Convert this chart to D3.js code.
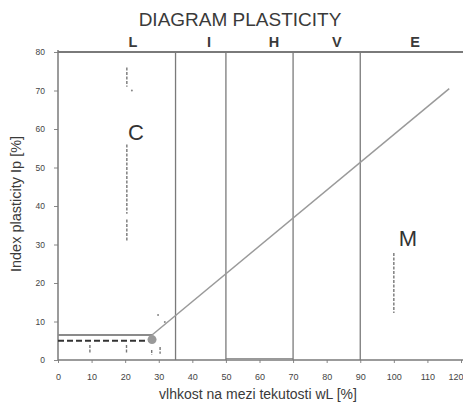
<!DOCTYPE html>
<html><head><meta charset="utf-8">
<script src="https://cdn.jsdelivr.net/npm/d3@7"></script>
<style>
html,body{margin:0;padding:0;background:#fff;}
svg{display:block;font-family:"Liberation Sans",Arial,sans-serif;}
</style></head>
<body>
<svg id="chart" width="463" height="405"></svg>
<script>
// ---- data ----
const xTicks = [0,10,20,30,40,50,60,70,80,90,100,110,120];
const yTicks = [0,10,20,30,40,50,60,70,80];
const zoneBounds = [35,50,70,90];                 // liquid-limit boundaries
const zoneLetters = ["L","I","H","V","E"];
const zoneLetterX = [22.3,45,64.3,83,106.3];
const aLine = [[28,6.5],[116.5,70.5]];           // A-line (wL, Ip)
const clayLimitLine = [[0,6.5],[28,6.5]];        // solid horizontal
const dashLine = [[0,5],[27,5]];                 // dashed horizontal
const pointMark = [28,5.3];
const regionLabels = ["C","M"];
const regionLabelPos = [[23.2,57.1],[104.2,29.6]];
// faint measured ranges: [wL, IpFrom, IpTo]
const faintRanges = [[20.5,76,71],[20.5,56,38],[20.5,36.5,31],[100,27.8,12.2],
                     [9.5,3.9,1.8],[20.4,3.9,1.8],[27.9,2.6,1.3],[30.4,3.4,1.6]];
const faintDots = [[22,70],[29.8,11.7],[31.8,9.9]];
const title = "DIAGRAM PLASTICITY";
const xTitle = "vlhkost na mezi tekutosti wL [%]";
const yTitle = "Index plasticity Ip [%]";

// ---- scales ----
const svg = d3.select("#chart");
const x = d3.scaleLinear().domain([0,120]).range([58,461]);
const y = d3.scaleLinear().domain([0,80]).range([360,52]);
const lineGray = "#7a7a7a";
const textCol = "#3a3a3a";

// title
svg.append("text").attr("x",240).attr("y",26).attr("text-anchor","middle")
  .attr("font-size",19).attr("fill",textCol).text(title);

// zone letters
svg.selectAll("text.zone").data(zoneLetters).join("text").attr("class","zone")
  .attr("x",(d,i)=>x(zoneLetterX[i])).attr("y",47).attr("text-anchor","middle")
  .attr("font-size",14.5).attr("font-weight","bold").attr("fill",textCol).text(d=>d);

// axes
const xAxis = d3.axisBottom(x).tickValues(xTicks).tickSize(3).tickPadding(11);
const gx = svg.append("g").attr("transform",`translate(0,${y(0)})`).call(xAxis);
gx.select(".domain").remove();
gx.selectAll("line").attr("stroke","#888");
gx.selectAll("text").attr("font-size",9).attr("fill","#444").attr("font-family","Liberation Sans, Arial, sans-serif");
// last label sits at the right edge: keep it inside the window
gx.selectAll(".tick").filter(d=>d===120).select("text").attr("text-anchor","end").attr("dx",2);

const yAxis = d3.axisLeft(y).tickValues(yTicks).tickSize(4).tickPadding(9);
const gy = svg.append("g").attr("transform",`translate(${x(0)},0)`).call(yAxis);
gy.select(".domain").remove();
gy.selectAll("line").attr("stroke","#888");
gy.selectAll("text").attr("font-size",8.5).attr("fill","#444").attr("font-family","Liberation Sans, Arial, sans-serif");

// frame lines
svg.append("line").attr("x1",x(0)).attr("x2",x(121)).attr("y1",y(0)).attr("y2",y(0))
  .attr("stroke",lineGray).attr("stroke-width",1.5);
svg.append("line").attr("x1",x(0)).attr("x2",x(121)).attr("y1",y(80)).attr("y2",y(80))
  .attr("stroke",lineGray).attr("stroke-width",2);
svg.append("line").attr("x1",x(0)).attr("x2",x(0)).attr("y1",y(0)).attr("y2",y(80)-2)
  .attr("stroke",lineGray).attr("stroke-width",1.5);
svg.append("line").attr("x1",x(50)).attr("x2",x(70)).attr("y1",y(0.3)).attr("y2",y(0.3))
  .attr("stroke","#999").attr("stroke-width",1.5);

// zone boundaries
svg.selectAll("line.zb").data(zoneBounds).join("line").attr("class","zb")
  .attr("x1",d=>x(d)).attr("x2",d=>x(d)).attr("y1",y(0)).attr("y2",y(80))
  .attr("stroke",lineGray).attr("stroke-width",1.3);

const line = d3.line().x(d=>x(d[0])).y(d=>y(d[1]));
// horizontal lines
svg.append("path").attr("d",line(clayLimitLine)).attr("fill","none")
  .attr("stroke","#8a8a8a").attr("stroke-width",2.2);
svg.append("path").attr("d",line(dashLine)).attr("fill","none")
  .attr("stroke","#333").attr("stroke-width",2).attr("stroke-dasharray","6,3");
// A-line
svg.append("path").attr("d",line(aLine)).attr("fill","none")
  .attr("stroke","#9a9a9a").attr("stroke-width",1.5);

// faint ranges
svg.selectAll("line.fr").data(faintRanges).join("line").attr("class","fr")
  .attr("x1",d=>x(d[0])).attr("x2",d=>x(d[0])).attr("y1",d=>y(d[1])).attr("y2",d=>y(d[2]))
  .attr("stroke","#777").attr("stroke-width",1.4).attr("stroke-dasharray","3,1.5");
svg.selectAll("circle.fd").data(faintDots).join("circle").attr("class","fd")
  .attr("cx",d=>x(d[0])).attr("cy",d=>y(d[1])).attr("r",1).attr("fill","#888");

// point
svg.append("circle").attr("cx",x(pointMark[0])).attr("cy",y(pointMark[1])).attr("r",4.5)
  .attr("fill","#999");

// region labels
svg.selectAll("text.rl").data(regionLabels).join("text").attr("class","rl")
  .attr("x",(d,i)=>x(regionLabelPos[i][0])).attr("y",(d,i)=>y(regionLabelPos[i][1]))
  .attr("text-anchor","middle").attr("font-size",22).attr("fill","#333").text(d=>d);

// axis titles
svg.append("text").attr("x",258).attr("y",399).attr("text-anchor","middle")
  .attr("font-size",14).attr("fill",textCol).text(xTitle);
svg.append("text").attr("transform","translate(21,204) rotate(-90)").attr("text-anchor","middle")
  .attr("font-size",14.5).attr("fill",textCol).text(yTitle);
</script>
</body></html>
